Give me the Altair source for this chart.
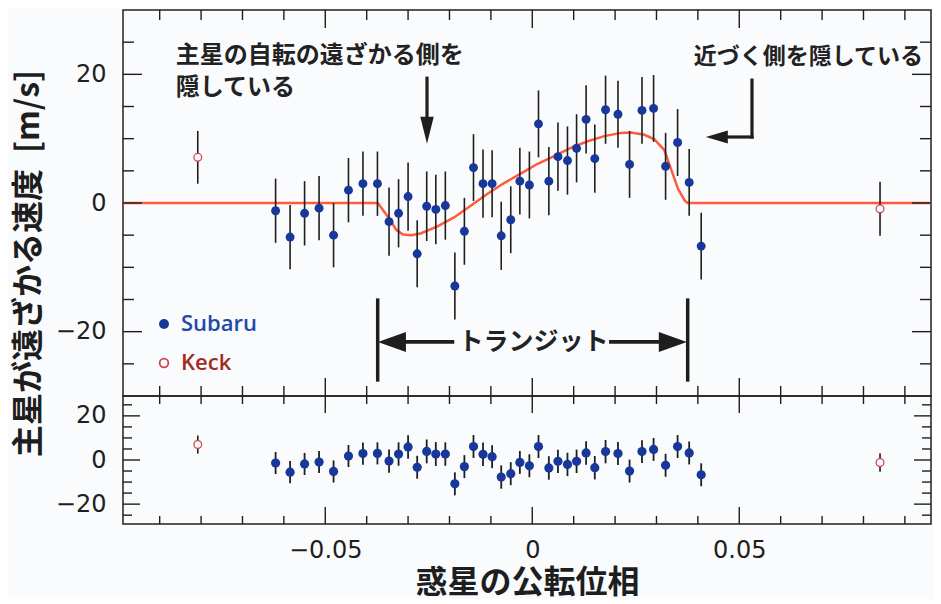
import altair as alt
import pandas as pd

# ---------------- data ----------------
subaru_phase = [-0.0620, -0.0585, -0.0550, -0.0515, -0.0480, -0.0444, -0.0409, -0.0374,
                -0.0346, -0.0323, -0.0300, -0.0278, -0.0255, -0.0233, -0.0210, -0.0187,
                -0.0164, -0.0142, -0.0119, -0.0097, -0.0075, -0.0052, -0.0030, -0.0007,
                0.0015, 0.0040, 0.0062, 0.0085, 0.0107, 0.0130, 0.0151, 0.0177,
                0.0207, 0.0235, 0.0265, 0.0293, 0.0322, 0.0351, 0.0379, 0.0408]
subaru_rv = [-1.2, -5.3, -1.6, -0.8, -5.0, 2.0, 3.0, 3.0,
             -2.9, -1.6, 1.0, -7.9, -0.5, -1.0, -0.4, -12.9,
             -4.4, 5.5, 3.0, 3.0, -5.1, -2.6, 3.4, 2.8,
             12.3, 3.4, 7.2, 6.6, 8.5, 13.0, 6.9, 14.5,
             13.8, 6.0, 14.4, 14.7, 5.7, 9.4, 3.2, -6.7]
subaru_err = [5.0, 5.0, 5.0, 5.0, 5.0, 5.0, 5.0, 5.0,
              5.3, 5.3, 5.3, 5.2, 5.4, 5.4, 5.3, 5.2,
              5.2, 5.2, 5.3, 5.2, 5.3, 5.2, 5.2, 5.2,
              5.2, 5.3, 5.3, 5.3, 5.3, 5.3, 5.3, 5.3,
              5.2, 5.2, 5.2, 5.2, 5.2, 5.2, 5.2, 5.2]
subaru_resid = [-1.4, -5.5, -1.8, -0.9, -5.2, 1.8, 2.9, 3.0,
                -0.5, 2.7, 5.9, -3.3, 3.9, 2.7, 2.7, -10.8,
                -3.0, 6.1, 2.6, 1.5, -7.7, -6.2, -1.1, -2.6,
                6.1, -3.6, -0.6, -2.0, -0.6, 3.2, -3.5, 3.8,
                2.9, -5.0, 3.8, 4.8, -2.4, 6.1, 3.2, -6.7]

keck_phase = [-0.0808, 0.0840]
keck_rv = [7.1, -0.9]
keck_err = [4.1, 4.2]
keck_resid = [7.0, -1.1]

model_phase = [-0.0988, -0.0373, -0.0348, -0.0328, -0.0312, -0.0292, -0.0268, -0.0228,
               -0.0188, -0.0148, -0.0108, -0.0068, -0.0027, 0.0013, 0.0053, 0.0094,
               0.0134, 0.0174, 0.0214, 0.0238, 0.0271, 0.0295, 0.0319, 0.0335,
               0.0352, 0.0368, 0.0375, 0.0985]
model_rv = [0.0, 0.0, -2.2, -4.2, -4.9, -5.0, -4.7, -3.6,
            -2.2, -0.4, 1.45, 3.1, 4.6, 6.1, 7.3, 8.6,
            9.6, 10.4, 10.9, 10.95, 10.6, 9.9, 8.2, 5.3,
            2.2, 0.4, 0.0, 0.0]

x_label_values = [-0.05, 0.0, 0.05]
y_label_values = [-20, 0, 20]
x_ticks_minor = [-0.09, -0.08, -0.07, -0.06, -0.04, -0.03, -0.02, -0.01,
                 0.01, 0.02, 0.03, 0.04, 0.06, 0.07, 0.08, 0.09]
x_ticks_major = [-0.05, 0.0, 0.05]
y_ticks_minor = [-25, -15, -10, -5, 5, 10, 15, 25]
y_ticks_major = [-20, 0, 20]

Y_TITLE = "主星が遠ざかる速度\u2002[m/s]"
X_TITLE = "惑星の公転位相"

# annotation texts (data coordinates)
note_left_text = ["主星の自転の遠ざかる側を", "隠している"]
note_left_x = [-0.0861, -0.0861]
note_left_y = [22.9, 17.8]
note_right_text = ["近づく側を隠している"]
note_right_x = [0.0667]
note_right_y = [22.7]
transit_text = ["トランジット"]
transit_x = [0.0003]
transit_y = [-21.6]

seg_x1 = [-0.02543, 0.05307, 0.05307, -0.0310, 0.0190, -0.03734, 0.03754]
seg_x2 = [-0.02543, 0.05307, 0.04679, -0.0193, 0.0311, -0.03734, 0.03754]
seg_y1 = [19.4, 19.1, 10.26, -21.6, -21.6, -15.1, -15.1]
seg_y2 = [12.6, 10.26, 10.26, -21.6, -21.6, -27.5, -27.5]
seg_w = [3.2, 3.2, 3.2, 3.8, 3.8, 3.5, 3.5]

head_x = [-0.02543, 0.04457, -0.0339, 0.03395]
head_y = [11.3, 10.26, -21.6, -21.6]
head_shape = ["M0,1L-0.5,-1L0.5,-1Z", "M-1,0L1,-0.6L1,0.6Z",
              "M-1,0L1,-0.71L1,0.71Z", "M1,0L-1,-0.71L-1,0.71Z"]
head_size = [729, 484, 784, 784]

# ---------------- styling ----------------
W, H1, H2 = 808, 386, 128
X_DOMAIN = [-0.09886, 0.09631]
BLUE = "#17379a"
RED = "#d2444b"
LINE = "#ff5a3c"
INK = "#1e1e1e"
BG = "#fafbfd"
JP = "Noto Sans CJK JP"

xs = alt.Scale(domain=X_DOMAIN, nice=False, zero=False)
ys1 = alt.Scale(domain=[-30, 30], nice=False, zero=False)
ys2 = alt.Scale(domain=[-29, 29], nice=False, zero=False)

lab = dict(labelFont="DejaVu Sans", labelFontSize=24, labelColor=INK,
           grid=False, ticks=False, tickSize=0, domain=False)

y_axis1 = alt.Axis(values=y_label_values, format="d", labelPadding=17,
                   title=Y_TITLE, titleFont=JP, titleFontSize=32, titleFontWeight="bold",
                   titleColor=INK, titleAngle=270, titleAlign="center",
                   titleBaseline="middle", titleX=-95, titleY=253, **lab)
y_axis2 = alt.Axis(values=y_label_values, format="d", labelPadding=17, title=None, **lab)
x_axis2 = alt.Axis(values=x_label_values,
                   labelExpr="datum.value == 0 ? '0' : format(datum.value, '.2f')",
                   labelPadding=26, labelBaseline="middle",
                   title=X_TITLE, titleFont=JP, titleFontSize=32, titleFontWeight="bold",
                   titleColor=INK, titleBaseline="middle", titleY=58, **lab)

sub = pd.DataFrame({"phase": subaru_phase, "rv": subaru_rv, "err": subaru_err,
                    "res": subaru_resid})
sub["lo"] = sub["rv"] - sub["err"]
sub["hi"] = sub["rv"] + sub["err"]
sub["rlo"] = sub["res"] - sub["err"]
sub["rhi"] = sub["res"] + sub["err"]
kk = pd.DataFrame({"phase": keck_phase, "rv": keck_rv, "err": keck_err, "res": keck_resid})
kk["lo"] = kk["rv"] - kk["err"]
kk["hi"] = kk["rv"] + kk["err"]
kk["rlo"] = kk["res"] - kk["err"]
kk["rhi"] = kk["res"] + kk["err"]
model = pd.DataFrame({"phase": model_phase, "rv": model_rv})


def tick_layers(ys, H, xlen, ylen, ax_x, ax_y):
    out = []
    for vals, L in ((x_ticks_minor, xlen[0]), (x_ticks_major, xlen[1])):
        base = alt.Chart(pd.DataFrame({"t": vals})).mark_rule(color=INK, strokeWidth=1.4)
        xe = alt.X("t:Q", scale=xs, axis=ax_x)
        out.append(base.encode(x=xe, y=alt.value(0), y2=alt.value(L)))
        out.append(base.encode(x=xe, y=alt.value(H), y2=alt.value(H - L)))
    for vals, L in ((y_ticks_minor, ylen[0]), (y_ticks_major, ylen[1])):
        base = alt.Chart(pd.DataFrame({"t": vals})).mark_rule(color=INK, strokeWidth=1.4)
        ye = alt.Y("t:Q", scale=ys, axis=ax_y)
        out.append(base.encode(y=ye, x=alt.value(0), x2=alt.value(L)))
        out.append(base.encode(y=ye, x=alt.value(W), x2=alt.value(W - L)))
    return out


X1 = alt.X("phase:Q", scale=xs, axis=None)

# ---------------- top panel ----------------
line = alt.Chart(model).mark_line(color=LINE, strokeWidth=2.5, clip=True).encode(
    x=X1, y=alt.Y("rv:Q", scale=ys1, axis=y_axis1))
sub_err = alt.Chart(sub).mark_rule(color=INK, strokeWidth=1.6).encode(
    x=X1, y=alt.Y("lo:Q", scale=ys1, axis=y_axis1), y2="hi:Q")
sub_pts = alt.Chart(sub).mark_circle(size=80, color=BLUE, opacity=1).encode(
    x=X1, y=alt.Y("rv:Q", scale=ys1, axis=y_axis1))
k_err = alt.Chart(kk).mark_rule(color=INK, strokeWidth=1.6).encode(
    x=X1, y=alt.Y("lo:Q", scale=ys1, axis=y_axis1), y2="hi:Q")
k_pts = alt.Chart(kk).mark_point(shape="circle", size=60, filled=True, fill=BG,
                                 stroke=RED, strokeWidth=1.3, opacity=1).encode(
    x=X1, y=alt.Y("rv:Q", scale=ys1, axis=y_axis1))

segs = pd.DataFrame({"x1": seg_x1, "x2": seg_x2, "y1": seg_y1, "y2": seg_y2, "w": seg_w})
arrows = alt.Chart(segs).mark_rule(color=INK, strokeCap="square").encode(
    x=alt.X("x1:Q", scale=xs, axis=None), x2="x2:Q",
    y=alt.Y("y1:Q", scale=ys1, axis=y_axis1), y2="y2:Q",
    size=alt.Size("w:Q", scale=None))
heads = pd.DataFrame({"x": head_x, "y": head_y, "s": head_shape, "z": head_size})
heads_l = alt.Chart(heads).mark_point(filled=True, color=INK, opacity=1, strokeWidth=0).encode(
    x=alt.X("x:Q", scale=xs, axis=None), y=alt.Y("y:Q", scale=ys1, axis=y_axis1),
    shape=alt.Shape("s:N", scale=None), size=alt.Size("z:Q", scale=None))

nl = pd.DataFrame({"x": note_left_x, "y": note_left_y, "t": note_left_text})
notes_l = alt.Chart(nl).mark_text(align="left", baseline="middle", font=JP, fontSize=24,
                                  fontWeight="bold", color="#222").encode(
    x=alt.X("x:Q", scale=xs, axis=None), y=alt.Y("y:Q", scale=ys1, axis=y_axis1), text="t:N")
nr = pd.DataFrame({"x": note_right_x, "y": note_right_y, "t": note_right_text})
notes_r = alt.Chart(nr).mark_text(align="center", baseline="middle", font=JP, fontSize=23,
                                  fontWeight="bold", color="#222").encode(
    x=alt.X("x:Q", scale=xs, axis=None), y=alt.Y("y:Q", scale=ys1, axis=y_axis1), text="t:N")
nt = pd.DataFrame({"x": transit_x, "y": transit_y, "t": transit_text})
notes_t = alt.Chart(nt).mark_text(align="center", baseline="middle", font=JP, fontSize=25,
                                  fontWeight="bold", color="#222").encode(
    x=alt.X("x:Q", scale=xs, axis=None), y=alt.Y("y:Q", scale=ys1, axis=y_axis1), text="t:N")

leg_df = pd.DataFrame({"name": ["Subaru", "Keck"]})
leg_sub_dot = alt.Chart(leg_df).transform_filter("datum.name == 'Subaru'").mark_circle(
    size=100, color=BLUE, opacity=1).encode(x=alt.value(41), y=alt.value(314))
leg_keck_dot = alt.Chart(leg_df).transform_filter("datum.name == 'Keck'").mark_point(
    shape="circle", size=75, filled=False, color=RED, strokeWidth=1.8, opacity=1).encode(
    x=alt.value(41), y=alt.value(353))
leg_sub_txt = alt.Chart(leg_df).transform_filter("datum.name == 'Subaru'").mark_text(
    align="left", baseline="middle", font="Open Sans", fontSize=22, fontWeight=600,
    color="#2349a8").encode(x=alt.value(58), y=alt.value(314), text="name:N")
leg_keck_txt = alt.Chart(leg_df).transform_filter("datum.name == 'Keck'").mark_text(
    align="left", baseline="middle", font="Open Sans", fontSize=22, fontWeight=600,
    color="#a32a1f").encode(x=alt.value(58), y=alt.value(353), text="name:N")

top = alt.layer(
    line, sub_err, sub_pts, k_err, k_pts, arrows, heads_l, notes_l, notes_r, notes_t,
    leg_sub_dot, leg_keck_dot, leg_sub_txt, leg_keck_txt,
    *tick_layers(ys1, H1, (10, 18), (11, 19), None, y_axis1)
).properties(width=W, height=H1)

# ---------------- bottom panel ----------------
X2 = alt.X("phase:Q", scale=xs, axis=x_axis2)
r_err = alt.Chart(sub).mark_rule(color=INK, strokeWidth=1.8).encode(
    x=X2, y=alt.Y("rlo:Q", scale=ys2, axis=y_axis2), y2="rhi:Q")
r_pts = alt.Chart(sub).mark_circle(size=85, color=BLUE, opacity=1).encode(
    x=X2, y=alt.Y("res:Q", scale=ys2, axis=y_axis2))
rk_err = alt.Chart(kk).mark_rule(color=INK, strokeWidth=1.6).encode(
    x=X2, y=alt.Y("rlo:Q", scale=ys2, axis=y_axis2), y2="rhi:Q")
rk_pts = alt.Chart(kk).mark_point(shape="circle", size=60, filled=True, fill=BG,
                                  stroke=RED, strokeWidth=1.3, opacity=1).encode(
    x=X2, y=alt.Y("res:Q", scale=ys2, axis=y_axis2))

bottom = alt.layer(
    r_err, r_pts, rk_err, rk_pts,
    *tick_layers(ys2, H2, (8, 17), (9, 17), x_axis2, y_axis2)
).properties(width=W, height=H2)

chart = alt.vconcat(top, bottom, spacing=0, bounds="flush").properties(
    padding={"left": 3, "top": 0, "right": 0, "bottom": 0},
    background=BG,
).configure_view(stroke="#222", strokeWidth=1.5)

chart.save("out.html", embed_options={"renderer": "svg", "actions": False})
